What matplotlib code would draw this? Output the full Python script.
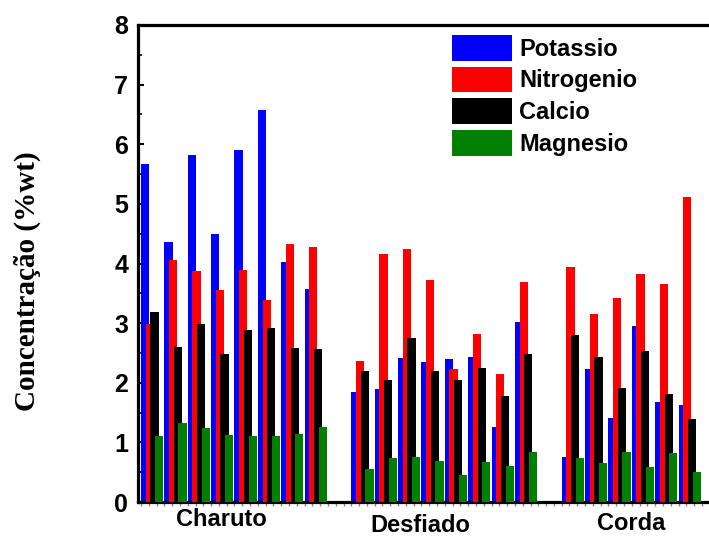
import numpy as np
import matplotlib
matplotlib.use("Agg")
import matplotlib.pyplot as plt
from matplotlib.ticker import MultipleLocator

# values, one entry per sample (4 elements each)
series = ["Potassio", "Nitrogenio", "Calcio", "Magnesio"]
colors = ["#0000ff", "#ff0000", "#000000", "#007f00"]

groups = ["Charuto", "Desfiado", "Corda"]

potassio_charuto = [5.67, 4.36, 5.82, 4.50, 5.91, 6.58, 4.03, 3.57]
nitrogenio_charuto = [2.98, 4.06, 3.88, 3.56, 3.89, 3.39, 4.33, 4.28]
calcio_charuto = [3.18, 2.60, 2.99, 2.48, 2.89, 2.92, 2.58, 2.57]
magnesio_charuto = [1.11, 1.33, 1.24, 1.12, 1.11, 1.11, 1.14, 1.25]

potassio_desfiado = [1.85, 1.89, 2.41, 2.35, 2.39, 2.43, 1.25, 3.02]
nitrogenio_desfiado = [2.37, 4.16, 4.24, 3.72, 2.23, 2.82, 2.15, 3.69]
calcio_desfiado = [2.20, 2.05, 2.75, 2.19, 2.05, 2.24, 1.77, 2.48]
magnesio_desfiado = [0.55, 0.73, 0.75, 0.69, 0.46, 0.67, 0.60, 0.84]

potassio_corda = [0.76, 2.23, 1.41, 2.95, 1.68, 1.63]
nitrogenio_corda = [3.94, 3.15, 3.42, 3.82, 3.66, 5.12]
calcio_corda = [2.80, 2.44, 1.91, 2.54, 1.81, 1.40]
magnesio_corda = [0.74, 0.65, 0.84, 0.59, 0.82, 0.50]

data = {
    "Charuto": [potassio_charuto, nitrogenio_charuto, calcio_charuto, magnesio_charuto],
    "Desfiado": [potassio_desfiado, nitrogenio_desfiado, calcio_desfiado, magnesio_desfiado],
    "Corda": [potassio_corda, nitrogenio_corda, calcio_corda, magnesio_corda],
}

plt.rcParams["font.family"] = ["Liberation Sans", "DejaVu Sans"]
plt.rcParams["font.weight"] = "bold"

fig = plt.figure(figsize=(7.09, 5.38), dpi=100)
ax = fig.add_axes([138 / 709, 36 / 538, 577 / 709, 477 / 538])

# each sample takes one slot, one empty slot between groups
slot_start = {"Charuto": 0, "Desfiado": 9, "Corda": 18}
label_pos = {"Charuto": (3.45, -0.036), "Desfiado": (11.94, -0.050), "Corda": (20.99, -0.046)}

for g in groups:
    n = len(data[g][0])
    x = slot_start[g] + np.arange(n)
    for j, (name, col) in enumerate(zip(series, colors)):
        ax.bar(x + 0.2 * j, data[g][j], width=0.35, align="edge", color=col,
               edgecolor="none", label=name if g == "Charuto" else None, zorder=2 + j)
    lx, ly = label_pos[g]
    ax.text(lx, ly, g, transform=ax.get_xaxis_transform(), ha="center", va="center",
            fontsize=17, fontweight="bold")

ax.set_xlim(-0.128, 24.56)
ax.set_ylim(0, 8)

ax.yaxis.set_major_locator(MultipleLocator(1))
ax.yaxis.set_minor_locator(MultipleLocator(0.5))
ax.tick_params(axis="y", which="major", direction="in", length=4, width=1.5, pad=7,
               labelsize=18)
ax.tick_params(axis="y", which="minor", direction="in", length=3, width=1.2)
for lab in ax.get_yticklabels():
    lab.set_fontweight("bold")

ax.set_xticks([])
ax.xaxis.set_minor_locator(MultipleLocator(1 / 3))
ax.tick_params(axis="x", which="minor", direction="out", length=3, width=1, color="#888888")

for side in ["left", "bottom", "top", "right"]:
    ax.spines[side].set_linewidth(2.3)

ax.set_ylabel("Concentração (%wt)", family=["Liberation Serif", "DejaVu Serif"],
              fontsize=21, fontweight="bold")
ax.yaxis.label.set_va("center")
ax.yaxis.set_label_coords(-0.192, 0.463)

leg = ax.legend(loc="upper left", bbox_to_anchor=((452 - 138) / 577, 1 - 10 / 477),
                frameon=False, fontsize=17, handlelength=2.55, handleheight=1.3,
                handletextpad=0.3, labelspacing=0.25, borderaxespad=0, borderpad=0)
for t in leg.get_texts():
    t.set_fontweight("bold")

fig.savefig("out.png", dpi=100)
